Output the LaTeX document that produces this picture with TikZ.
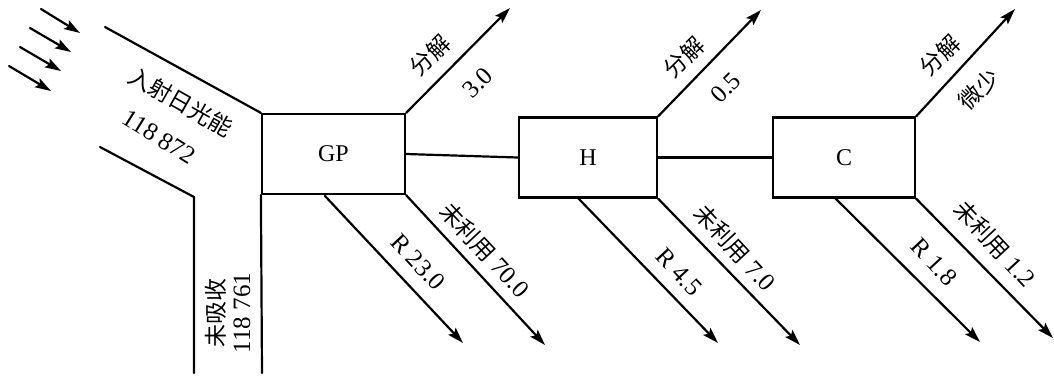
\documentclass[tikz,border=0pt]{standalone}
\usepackage{fontspec}
\setmainfont{Liberation Serif}
\newfontfamily\cjk{Noto Sans CJK SC}
\usetikzlibrary{arrows.meta}
\begin{document}
\begin{tikzpicture}[x=1pt,y=-1pt,
  flow/.style={line width=2.2pt,line cap=round},
  arr/.style={flow,-{Stealth[length=16pt,width=10pt,inset=3pt]}},
  box/.style={draw,line width=2.2pt,rectangle,minimum width=#1,minimum height=80pt,inner sep=0pt,font=\fontsize{24}{26}\selectfont},
  lbl/.style={font=\fontsize{25}{27}\selectfont,inner sep=0pt},
  cl/.style={font=\fontsize{23}{25}\selectfont\cjk,inner sep=0pt}]
\useasboundingbox (0,0) rectangle (1054,376);
% sun rays
\foreach \i/\a/\b/\c/\d in {1/41/9/80/33,2/30/28/71/52,3/20/47/61/71,4/9/66/51/91}{
  \coordinate (s\i a) at (\a,\b);
  \coordinate (s\i b) at (\c,\d);
  \draw[arr] (s\i a) -- (s\i b);
}
% boxes
\node[box=143pt] (gp) at (333.5,154) {GP};
\node[box=138pt] (h) at (588,157.5) {H};
\node[box=142pt] (c) at (844,157.5) {C};
% incident light channel
\coordinate (in1) at (105,27);
\coordinate (in2) at (100,147);
\coordinate (in3) at (194,197);
\coordinate (in4) at (194,373);
\coordinate (in5) at (262,373);
\draw[flow] (in1) -- (gp.north west);
\draw[flow] (in2) -- (in3) -- (in4);
\draw[flow] (gp.south west) -- (in5);
\node[cl,rotate=-29.5] (t1) at (181,102) {入射日光能};
\node[lbl,rotate=-32] (t2) at (159,137) {118 872};
\node[cl,rotate=90] (t3) at (216,313) {未吸收};
\node[lbl,rotate=90] (t4) at (242,313) {118 761};
% links between boxes
\draw[flow] (gp.east) -- (h.west);
\draw[flow] (h.east) -- (c.west);
% decomposition arrows
\coordinate (d1) at (510,8);
\coordinate (d2) at (761,10);
\coordinate (d3) at (1015,9);
\draw[arr] (gp.north east) -- (d1);
\draw[arr] (h.north east) -- (d2);
\draw[arr] (c.north east) -- (d3);
\node[cl,rotate=45] (f1) at (430,55) {分解};
\node[lbl,rotate=45] (v1) at (478,83) {3.0};
\node[cl,rotate=45] (f2) at (684,57) {分解};
\node[lbl,rotate=45] (v2) at (726,88) {0.5};
\node[cl,rotate=45] (f3) at (940,55) {分解};
\node[cl,rotate=45] (v3) at (979,89) {微少};
% respiration arrows
\coordinate (gpr) at (325,196);
\coordinate (hr) at (578,198);
\coordinate (cr) at (835,198);
\coordinate (r1) at (463,343);
\coordinate (r2) at (718,343);
\coordinate (r3) at (980,342);
\draw[arr] (gpr) -- (r1);
\draw[arr] (hr) -- (r2);
\draw[arr] (cr) -- (r3);
\node[lbl,rotate=-47] (rl1) at (418,262) {R 23.0};
\node[lbl,rotate=-47] (rl2) at (679,272) {R 4.5};
\node[lbl,rotate=-47] (rl3) at (934,262) {R 1.8};
% unused arrows
\coordinate (u1) at (545,345);
\coordinate (u2) at (800,345);
\coordinate (u3) at (1053,338);
\draw[arr] (gp.south east) -- (u1);
\draw[arr] (h.south east) -- (u2);
\draw[arr] (c.south east) -- (u3);
\node[lbl,rotate=-47] (ul1) at (485,250) {{\cjk\fontsize{23}{25}\selectfont 未利用} 70.0};
\node[lbl,rotate=-47] (ul2) at (735,248) {{\cjk\fontsize{23}{25}\selectfont 未利用} 7.0};
\node[lbl,rotate=-47] (ul3) at (995,244) {{\cjk\fontsize{23}{25}\selectfont 未利用} 1.2};
\end{tikzpicture}
\end{document}
